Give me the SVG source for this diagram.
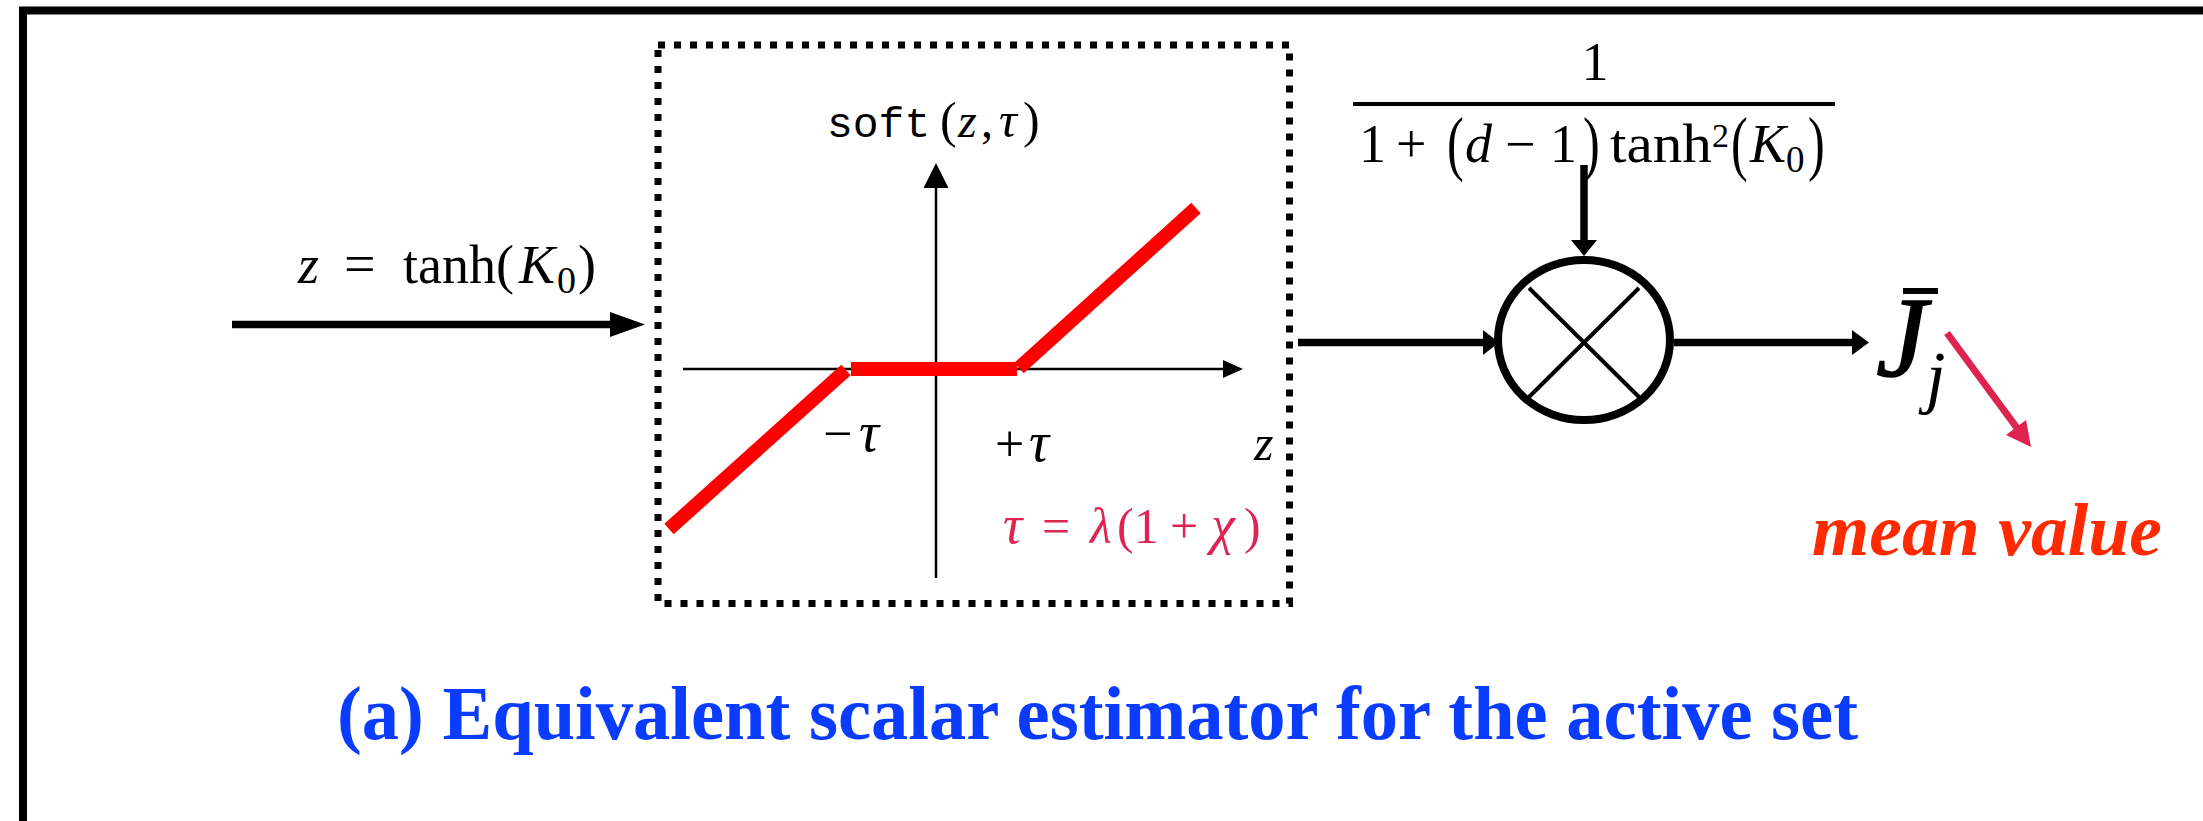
<svg xmlns="http://www.w3.org/2000/svg" width="2203" height="821" viewBox="0 0 2203 821">
<style>
.serif{font-family:"Liberation Serif","Times New Roman",serif;fill:#000}
.it{font-style:italic}
.mono{font-family:"Liberation Mono","Courier New",monospace;fill:#000}
.head{fill:#000;stroke:none}
.conn{stroke:#000;stroke-width:7.5;fill:none}
.axis{stroke:#000;stroke-width:2.5;fill:none}
.soft{stroke:#FF0000;stroke-width:14;fill:none;stroke-linecap:butt}
</style>
<rect x="0" y="0" width="2203" height="821" fill="#fff"/>
<g id="frame">
<path d="M23,821 V10.5 H2203" fill="none" stroke="#000" stroke-width="8"/>
</g>
<g id="input-label">
<text class="serif it" x="298" y="283" font-size="54">z</text>
<text class="serif" x="344" y="283" font-size="56">=</text>
<text class="serif" x="403" y="283" font-size="54">tanh(</text>
<text class="serif it" x="519" y="283" font-size="54">K</text>
<text class="serif" x="557" y="293" font-size="38">0</text>
<text class="serif" x="578" y="283" font-size="54">)</text>
</g>
<g id="soft-threshold-box">
<rect x="658" y="45" width="631.5" height="558.5" fill="none" stroke="#000" stroke-width="7" stroke-dasharray="7 9"/>
<line class="axis" x1="683" y1="369" x2="1226" y2="369"/>
<polygon class="head" points="1243,369 1223,360 1223,378"/>
<line class="axis" x1="936" y1="578" x2="936" y2="185"/>
<polygon class="head" points="936,163 923.5,188 948.5,188"/>
<line class="soft" x1="669" y1="529" x2="846" y2="370"/>
<line class="soft" x1="851" y1="369" x2="1017" y2="369"/>
<line class="soft" x1="1019" y1="368" x2="1196" y2="208"/>
<text class="mono" x="827" y="137" font-size="43">soft</text>
<text class="serif" x="940" y="137" font-size="50">(</text>
<text class="serif it" x="958" y="137" font-size="48">z</text>
<text class="serif" x="981" y="137" font-size="48">,</text>
<text class="serif it" x="999" y="137" font-size="50">τ</text>
<text class="serif" x="1023" y="137" font-size="50">)</text>
<text class="serif" x="823" y="451" font-size="52">−</text>
<text class="serif it" x="859" y="451" font-size="56">τ</text>
<text class="serif" x="995" y="461" font-size="52">+</text>
<text class="serif it" x="1029" y="461" font-size="56">τ</text>
<text class="serif it" x="1254" y="460" font-size="50">z</text>
<g fill="#DF2451" font-family="Liberation Serif, Times New Roman, serif" font-size="50">
<text x="1003" y="543" font-style="italic" font-size="54">τ</text>
<text x="1042" y="543">=</text>
<text x="1090" y="543" font-style="italic">λ</text>
<text x="1117" y="543">(1</text>
<text x="1170" y="543">+</text>
<text x="1211" y="543" font-style="italic" font-size="54">χ</text>
<text x="1244" y="543">)</text>
</g>
</g>
<g id="gain-fraction">
<text class="serif" x="1595" y="80" font-size="54" text-anchor="middle">1</text>
<line x1="1353" y1="104" x2="1835" y2="104" stroke="#000" stroke-width="4"/>
<text class="serif" x="1359" y="162" font-size="54">1</text>
<text class="serif" x="1396" y="162" font-size="54">+</text>
<text class="serif" transform="translate(1447,167) scale(0.7,1)" font-size="72">(</text>
<text class="serif it" x="1465" y="162" font-size="54">d</text>
<text class="serif" x="1505" y="162" font-size="54">−</text>
<text class="serif" x="1550" y="162" font-size="54">1</text>
<text class="serif" transform="translate(1583,167) scale(0.7,1)" font-size="72">)</text>
<text class="serif" x="1610" y="162" font-size="54" textLength="102" lengthAdjust="spacingAndGlyphs">tanh</text>
<text class="serif" x="1712" y="147" font-size="34">2</text>
<text class="serif" transform="translate(1731,167) scale(0.7,1)" font-size="72">(</text>
<text class="serif it" x="1750" y="162" font-size="54">K</text>
<text class="serif" x="1786" y="172" font-size="37">0</text>
<text class="serif" transform="translate(1808,167) scale(0.7,1)" font-size="72">)</text>
</g>
<g id="multiplier">
<ellipse cx="1584" cy="340" rx="86" ry="80" fill="none" stroke="#000" stroke-width="8"/>
<line x1="1529" y1="288" x2="1639" y2="397" stroke="#000" stroke-width="4"/>
<line x1="1529" y1="397" x2="1639" y2="288" stroke="#000" stroke-width="4"/>
</g>
<g id="output">
<rect x="1903" y="288" width="35" height="6" fill="#000"/>
<text class="serif it" x="1876" y="376" font-size="115" stroke="#000" stroke-width="1.5">J</text>
<text class="serif it" x="1926" y="400" font-size="70">j</text>
</g>
<g id="mean-value-note">
<line x1="1947" y1="333" x2="2017" y2="428" stroke="#DE2350" stroke-width="7"/>
<polygon points="2031,447 2006,435 2026,420" fill="#DE2350"/>
<text x="1812" y="555" font-family="Liberation Serif, Times New Roman, serif" font-size="75" font-weight="bold" font-style="italic" fill="#FF2A00" textLength="350" lengthAdjust="spacingAndGlyphs">mean value</text>
</g>
<g id="connectors">
<line class="conn" x1="232" y1="324.5" x2="612" y2="324.5" stroke-width="8"/>
<polygon class="head" points="645,324.5 610,312 610,337"/>
<line class="conn" x1="1298" y1="342.5" x2="1485" y2="342.5"/>
<polygon class="head" points="1499,342.5 1483,330 1483,355"/>
<line class="conn" x1="1674" y1="342.5" x2="1854" y2="342.5" stroke-width="8"/>
<polygon class="head" points="1869,342.5 1852,330 1852,355"/>
<line class="conn" x1="1584" y1="165" x2="1584" y2="242"/>
<polygon class="head" points="1584,256 1571,240 1597,240"/>
</g>
<g id="title">
<text x="337" y="739" font-family="Liberation Serif, Times New Roman, serif" font-size="76" font-weight="bold" fill="#0A3CFF" textLength="1521" lengthAdjust="spacingAndGlyphs">(a) Equivalent scalar estimator for the active set</text>
</g>
</svg>
